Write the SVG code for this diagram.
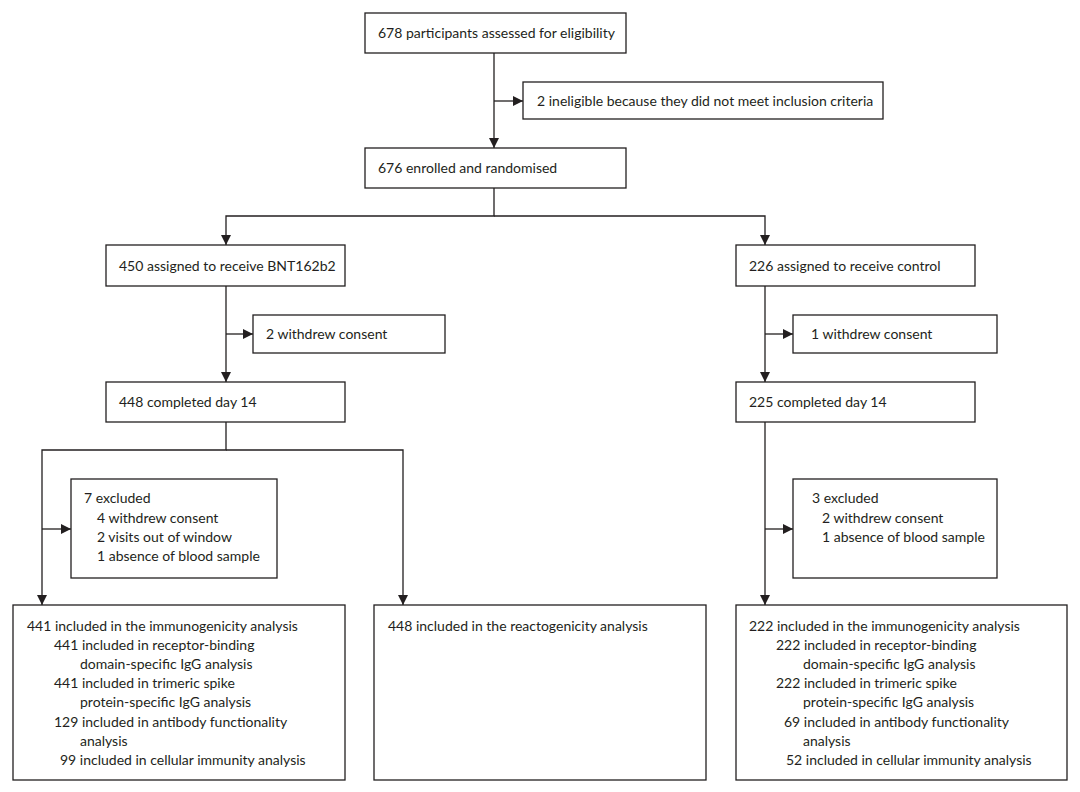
<svg xmlns="http://www.w3.org/2000/svg" width="1080" height="792" viewBox="0 0 1080 792">
<defs>
<marker id="ah" viewBox="0 0 10 10" refX="10" refY="5" markerWidth="10" markerHeight="10" markerUnits="userSpaceOnUse" orient="auto">
<path d="M0,0 L10,5 L0,10 Z" fill="#231f20"/>
</marker>
<style>
rect{fill:#fff;stroke:#231f20;stroke-width:1.3}
text{font-family:Lato,"Liberation Sans",sans-serif;font-size:14px;fill:#231f20}
.c{fill:none;stroke:#231f20;stroke-width:1.3}
</style>
</defs>
<rect x="0" y="0" width="1080" height="792" style="fill:#fff;stroke:none"/>
<g id="connectors">
<path class="c" d="M494,53 V148" marker-end="url(#ah)"/>
<path class="c" d="M494,101 H523" marker-end="url(#ah)"/>
<path class="c" d="M494,188 V216 H226 V245" marker-end="url(#ah)"/>
<path class="c" d="M494,216 H765 V245" marker-end="url(#ah)"/>
<path class="c" d="M226,286 V382" marker-end="url(#ah)"/>
<path class="c" d="M226,334 H253" marker-end="url(#ah)"/>
<path class="c" d="M765,286 V382" marker-end="url(#ah)"/>
<path class="c" d="M765,334 H793" marker-end="url(#ah)"/>
<path class="c" d="M226,422 V450 H42 V605" marker-end="url(#ah)"/>
<path class="c" d="M226,450 H403 V605" marker-end="url(#ah)"/>
<path class="c" d="M42,529 H71" marker-end="url(#ah)"/>
<path class="c" d="M765,422 V605" marker-end="url(#ah)"/>
<path class="c" d="M765,529 H793" marker-end="url(#ah)"/>
</g>
<g id="assessed"><rect x="365" y="13" width="261" height="40"/><text x="378" y="38">678 participants assessed for eligibility</text></g>
<g id="ineligible"><rect x="523" y="82" width="360" height="37"/><text x="537" y="106">2 ineligible because they did not meet inclusion criteria</text></g>
<g id="enrolled"><rect x="365" y="148" width="261" height="40"/><text x="378" y="173">676 enrolled and randomised</text></g>
<g id="bnt"><rect x="106" y="245" width="239" height="41"/><text x="119" y="271">450 assigned to receive BNT162b2</text></g>
<g id="control"><rect x="736" y="245" width="239" height="41"/><text x="749" y="271">226 assigned to receive control</text></g>
<g id="withdrew-bnt"><rect x="253" y="315" width="192" height="38"/><text x="266" y="339">2 withdrew consent</text></g>
<g id="withdrew-control"><rect x="793" y="315" width="204" height="38"/><text x="811" y="339">1 withdrew consent</text></g>
<g id="day14-bnt"><rect x="106" y="382" width="239" height="40"/><text x="119" y="407">448 completed day 14</text></g>
<g id="day14-control"><rect x="736" y="382" width="239" height="40"/><text x="749" y="407">225 completed day 14</text></g>
<g id="excluded-bnt"><rect x="71" y="479" width="206" height="99"/>
<text x="84" y="503">7 excluded</text>
<text x="97" y="523">4 withdrew consent</text>
<text x="97" y="542">2 visits out of window</text>
<text x="97" y="561">1 absence of blood sample</text></g>
<g id="excluded-control"><rect x="793" y="479" width="204" height="99"/>
<text x="812" y="503">3 excluded</text>
<text x="822" y="523">2 withdrew consent</text>
<text x="822" y="542">1 absence of blood sample</text></g>
<g id="immuno-bnt"><rect x="13" y="605" width="332" height="175"/>
<text x="27" y="631">441 included in the immunogenicity analysis</text>
<text x="54" y="650">441 included in receptor-binding</text>
<text x="80" y="669">domain-specific IgG analysis</text>
<text x="54" y="688">441 included in trimeric spike</text>
<text x="80" y="707">protein-specific IgG analysis</text>
<text x="54" y="727">129 included in antibody functionality</text>
<text x="80" y="746">analysis</text>
<text x="60" y="765">99 included in cellular immunity analysis</text></g>
<g id="reacto-bnt"><rect x="374" y="605" width="332" height="175"/>
<text x="388" y="631">448 included in the reactogenicity analysis</text></g>
<g id="immuno-control"><rect x="736" y="605" width="331" height="175"/>
<text x="749" y="631">222 included in the immunogenicity analysis</text>
<text x="776" y="650">222 included in receptor-binding</text>
<text x="803" y="669">domain-specific IgG analysis</text>
<text x="776" y="688">222 included in trimeric spike</text>
<text x="803" y="707">protein-specific IgG analysis</text>
<text x="784" y="727">69 included in antibody functionality</text>
<text x="803" y="746">analysis</text>
<text x="786" y="765">52 included in cellular immunity analysis</text></g>
</svg>
